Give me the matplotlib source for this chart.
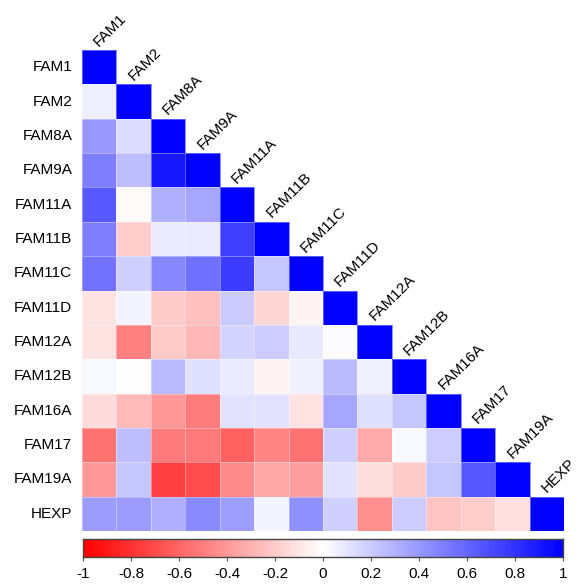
import numpy as np
import matplotlib
matplotlib.use("Agg")
import matplotlib.pyplot as plt
from matplotlib.colors import LinearSegmentedColormap

plt.rcParams['font.family'] = ['Liberation Sans', 'DejaVu Sans']

labels = ["FAM1", "FAM2", "FAM8A", "FAM9A", "FAM11A", "FAM11B", "FAM11C",
          "FAM11D", "FAM12A", "FAM12B", "FAM16A", "FAM17", "FAM19A", "HEXP"]

# lower triangle rows (without the diagonal)
r_fam2 = [0.07]
r_fam8a = [0.40, 0.14]
r_fam9a = [0.50, 0.25, 0.90]
r_fam11a = [0.65, -0.02, 0.31, 0.35]
r_fam11b = [0.50, -0.20, 0.08, 0.08, 0.75]
r_fam11c = [0.55, 0.18, 0.47, 0.56, 0.76, 0.22]
r_fam11d = [-0.11, 0.04, -0.21, -0.25, 0.21, -0.17, -0.04]
r_fam12a = [-0.11, -0.50, -0.21, -0.28, 0.17, 0.20, 0.09, 0.01]
r_fam12b = [0.03, 0.00, 0.27, 0.12, 0.08, -0.04, 0.06, 0.27, 0.06]
r_fam16a = [-0.14, -0.27, -0.40, -0.51, 0.11, 0.11, -0.11, 0.35, 0.12, 0.22]
r_fam17 = [-0.55, 0.25, -0.52, -0.52, -0.62, -0.48, -0.55, 0.18, -0.33, 0.03, 0.20]
r_fam19a = [-0.40, 0.22, -0.75, -0.70, -0.46, -0.35, -0.38, 0.11, -0.13, -0.21, 0.22, 0.66]
r_hexp = [0.39, 0.39, 0.31, 0.46, 0.38, 0.04, 0.43, 0.18, -0.43, 0.20, -0.23, -0.20, -0.12]

rows = [[], r_fam2, r_fam8a, r_fam9a, r_fam11a, r_fam11b, r_fam11c, r_fam11d,
        r_fam12a, r_fam12b, r_fam16a, r_fam17, r_fam19a, r_hexp]

n = len(labels)
mat = np.full((n, n), np.nan)
for i, r in enumerate(rows):
    for j, v in enumerate(r):
        mat[i, j] = v
    mat[i, i] = 1.0
mat = np.ma.masked_invalid(mat)

cmap = LinearSegmentedColormap.from_list("rwb", ["#FF0000", "#FFFFFF", "#0000FF"])

fig = plt.figure(figsize=(5.77, 5.85), dpi=100)
ax = fig.add_axes([82/577, 1-531/585, 482/577, 481/585])
ax.pcolormesh(np.arange(n+1), np.arange(n+1), mat, cmap=cmap, vmin=-1, vmax=1,
              edgecolor=(1, 1, 1, 0.35), linewidth=0.4)
ax.set_xlim(0, n)
ax.set_ylim(n, 0)
ax.axis('off')

for i, lab in enumerate(labels):
    ax.text(-0.28, i + 0.5, lab, ha='right', va='center', fontsize=11)
    ax.text(i + 0.5, i - 0.1, lab, ha='left', va='baseline', fontsize=11,
            rotation=45, rotation_mode='anchor')

# colorbar
cax = fig.add_axes([83/577, 1-557/585, 480/577, 18/585])
grad = np.linspace(-1, 1, 256).reshape(1, -1)
cax.imshow(grad, aspect='auto', cmap=cmap, vmin=-1, vmax=1, extent=[-1, 1, 0, 1])
cax.set_yticks([])
ticks = np.round(np.arange(-1, 1.01, 0.2), 1)
cax.set_xticks(ticks)
cax.set_xticklabels([("%g" % t) if t != 0 else "0" for t in ticks], fontsize=11)
cax.tick_params(axis='x', length=3, color='#555555', pad=4)
for s in cax.spines.values():
    s.set_color('#444444')
    s.set_linewidth(1)

fig.savefig("out.png", dpi=100)
